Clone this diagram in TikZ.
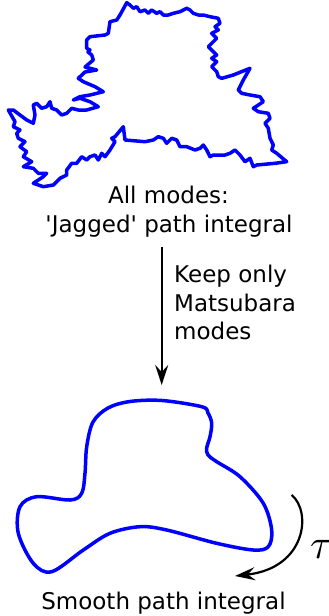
\documentclass[tikz,border=0pt]{standalone}
\usepackage{fontspec}
\setmainfont{DejaVu Sans}
\usetikzlibrary{arrows.meta}
\begin{document}
\begin{tikzpicture}[x=1pt,y=-1pt,
  lbl/.style={inner sep=0pt,anchor=base,font=\fontsize{23}{28}\selectfont},
  lblw/.style={lbl,anchor=base west},
  mode/.style={draw={rgb,255:red,0;green,0;blue,255},line width=3.5pt,line join=round,line cap=round},
  flow/.style={draw=black,line width=2.2pt,-{Stealth[length=20pt,width=13pt,inset=7pt]}}
]
\useasboundingbox (0,0) rectangle (329,616);

% rough path with all modes kept
\draw[mode] (126.7,2.7) -- (130,5) -- (133.3,8.3) -- (136.7,6.7) -- (140,11.7) -- (145,10) -- (148.3,13.3) -- (151.7,10) -- (156.7,13.3) -- (160,11.7) -- (163.3,15) -- (168.3,15) -- (173.3,13.3) -- (180,11.7) -- (186.7,8.3) -- (190,10) -- (193.3,13.3) -- (198.3,15) -- (203.3,15) -- (210,16.7) -- (218.3,18.3) -- (220,23.3) -- (215,26.7) -- (218.3,30) -- (211.7,33.3) -- (216.7,38.3) -- (208.3,46.7) -- (213.3,51.7) -- (216.7,55) -- (211.7,58.3) -- (216.7,61.7) -- (211.7,66.7) -- (216.7,71.7) -- (218.3,76.7) -- (221.7,78.3) -- (233.3,75) -- (250,68.3) -- (243.3,80) -- (238.3,90) -- (241.7,93.3) -- (250,95) -- (260,96.7) -- (263.3,101.7) -- (253.3,108.3) -- (258.3,111.7) -- (268.3,113.3) -- (270,118.3) -- (265,123.3) -- (268.3,128.3) -- (270,138.3) -- (273.3,145) -- (271.7,150) -- (276.7,153.3) -- (286.7,161.7) -- (275,163.3) -- (256.7,165) -- (253.3,166.7) -- (250,158.3) -- (245,161.7) -- (240,155) -- (235,150) -- (230,153.3) -- (225,155) -- (213.3,155) -- (210,156.7) -- (206.7,150) -- (203.3,145) -- (200,148.3) -- (195,150) -- (186.7,146.7) -- (180,146.7) -- (176.7,140) -- (171.7,138.3) -- (166.7,143.3) -- (163.3,138.3) -- (158.3,136.7) -- (153.3,140) -- (145,141.7) -- (125,140) -- (123.3,126.7) -- (115,136.7) -- (111.7,138.3) -- (115,141.7) -- (110,150) -- (105,156.7) -- (101.7,153.3) -- (98.3,160) -- (95,155) -- (90,156.7) -- (86.7,160) -- (81.7,156.7) -- (76.7,163.3) -- (71.7,163.3) -- (66.7,170) -- (66.7,175) -- (60,178.3) -- (53.3,185) -- (43.3,186.7) -- (33.3,183.3) -- (43.3,176.7) -- (46.7,173.3) -- (38.3,173.3) -- (33.3,168.3) -- (23.3,166.7) -- (31.7,161.7) -- (23.3,156.7) -- (26.7,151.7) -- (20,146.7) -- (25,141.7) -- (18.3,138.3) -- (16.7,133.3) -- (20,130) -- (13.3,126.7) -- (15,121.7) -- (8.3,110) -- (13.3,110) -- (20,115) -- (26.7,120) -- (33.3,123.3) -- (35,115) -- (33.3,105) -- (36.7,103.3) -- (41.7,108.3) -- (46.7,106.7) -- (50,101.7) -- (51.7,108.3) -- (56.7,110) -- (61.7,115) -- (66.7,113.3) -- (71.7,108.3) -- (78.3,110) -- (86.7,110) -- (98.3,106.7) -- (90,101.7) -- (80,98.3) -- (73.3,100) -- (80,96.7) -- (90,95) -- (103.3,91.7) -- (95,86.7) -- (83.3,81.7) -- (78.3,78.3) -- (85,72) -- (96.7,70) -- (85,67) -- (93.3,60) -- (91.7,55) -- (88,52) -- (90,50) -- (86.7,48.3) -- (86.7,40) -- (90,36.7) -- (105,35) -- (108.3,33.3) -- (110,21.7) -- (116.7,20) -- (120,15) -- cycle;

% smooth path with Matsubara modes only
\draw[mode] plot[smooth cycle,tension=0.55] coordinates {
  (86.7,446.7) (93,422) (108,408) (130,401.5) (162,400.5) (201.7,406.7)
  (208,413) (211.7,423.3) (210,436.7) (206.7,448) (208,455) (216.7,461.7)
  (240,476.7) (263.3,503.3) (271.7,530) (268.3,546.7) (253.3,550)
  (216.7,543.3) (166.7,530) (140,526.7) (110,533.3) (83.3,550) (51.7,571.7)
  (33.3,563.3) (18.3,533.3) (20,506.7) (36.7,496.7) (70,500) (81.7,493.3) (85,473.3)};

% labels
\node[lbl] (all1) at (168.5,203) {All modes:};
\node[lbl] (all2) at (169,232) {\textquotesingle Jagged\textquotesingle{} path integral};
\node[lblw] (keep1) at (174,282.5) {Keep only};
\node[lblw] (keep2) at (174,311) {Matsubara};
\node[lblw] (keep3) at (174,339.5) {modes};
\node[lbl] (smooth) at (163.5,609) {Smooth path integral};
\node[inner sep=0pt,anchor=base west] (tau) at (310,558) {\scalebox{4.2}{$\tau$}};

% reduction arrow
\coordinate (arrtop) at (161.7,247);
\coordinate (arrbot) at (161.7,385);
\draw[flow] (arrtop) -- (arrbot);

% imaginary-time direction
\coordinate (taustart) at (291.7,495);
\coordinate (tauend) at (235,576);
\draw[flow] (taustart) .. controls (312,512) and (306,568) .. (tauend);
\end{tikzpicture}
\end{document}
